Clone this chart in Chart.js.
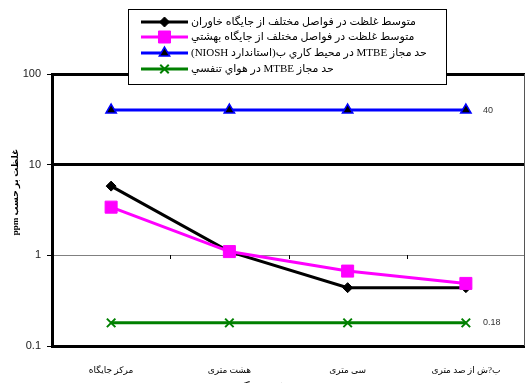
<!DOCTYPE html>
<html>
<head>
<meta charset="utf-8">
<script src="https://cdn.jsdelivr.net/npm/chart.js@4.4.1/dist/chart.umd.min.js"></script>
<style>
  html, body { margin: 0; padding: 0; background: #fff; overflow: hidden; }
  canvas { display: block; }
</style>
</head>
<body>
<canvas id="chart" width="526" height="396"></canvas>
<script>
// data (log scale, ppm)
const categories = ["مرکز جایگاه", "هشت متری", "سی متری", "ب?ش از صد متری"];
const khavaran = [5.8, 1.1, 0.44, 0.44];
const beheshti = [3.4, 1.1, 0.67, 0.49];
const nioshLimit = [40, 40, 40, 40];
const breathingLimit = [0.18, 0.18, 0.18, 0.18];
const yTicks = [0.1, 1, 10, 100];
const seriesNames = [
  "متوسط غلظت در فواصل مختلف از جایگاه خاوران",
  "متوسط غلظت در فواصل مختلف از جایگاه بهشتي",
  "حد مجاز MTBE در محیط کاري ب(استاندارد NIOSH)",
  "حد مجاز MTBE در هواي تنفسي",
];
const yTitle = "غلظت بر حسب ppm";
const xTitle = "فاصله از مرکز جایگاه";

const arabicFont = '"Liberation Serif", "DejaVu Sans", serif';

// legend box, value labels, y title, right border and the x ticks on the "1" line
const extras = {
  id: "extras",
  afterDraw(chart) {
    const ctx = chart.ctx;
    const area = chart.chartArea;
    const xs = chart.scales.x;
    const ys = chart.scales.y;
    ctx.save();

    // right border
    ctx.strokeStyle = "#555";
    ctx.lineWidth = 1;
    ctx.beginPath();
    ctx.moveTo(area.right - 0.5, area.top);
    ctx.lineTo(area.right - 0.5, area.bottom);
    ctx.stroke();

    // category ticks on the axis crossing at 1
    const y1 = Math.round(ys.getPixelForValue(1));
    ctx.strokeStyle = "#000";
    for (let i = 0; i < categories.length - 1; i++) {
      const xm = Math.round((xs.getPixelForValue(i) + xs.getPixelForValue(i + 1)) / 2) + 0.5;
      ctx.beginPath();
      ctx.moveTo(xm, y1);
      ctx.lineTo(xm, y1 + 4);
      ctx.stroke();
    }

    // value labels after the last point
    ctx.fillStyle = "#333";
    ctx.font = '9px "Liberation Sans", Arial, sans-serif';
    ctx.textAlign = "left";
    ctx.textBaseline = "middle";
    const last = categories.length - 1;
    const lx = xs.getPixelForValue(last) + 17;
    ctx.fillText(String(nioshLimit[last]), lx, ys.getPixelForValue(nioshLimit[last]));
    ctx.fillText(String(breathingLimit[last]), lx, ys.getPixelForValue(breathingLimit[last]));

    // y axis title, sits a bit above the middle like the original
    ctx.save();
    ctx.translate(16, 192);
    ctx.rotate(-Math.PI / 2);
    ctx.fillStyle = "#000";
    ctx.font = "bold 9px " + arabicFont;
    ctx.direction = "rtl";
    ctx.textAlign = "center";
    ctx.fillText(yTitle, 0, 0);
    ctx.restore();

    // legend
    const bx = 128.5, by = 9.5, bw = 318, bh = 75;
    ctx.fillStyle = "#fff";
    ctx.fillRect(bx, by, bw, bh);
    ctx.strokeStyle = "#000";
    ctx.lineWidth = 1;
    ctx.strokeRect(bx, by, bw, bh);

    const rows = [22, 37, 53, 69];
    chart.data.datasets.forEach((ds, i) => {
      const ry = rows[i];
      ctx.strokeStyle = ds.borderColor;
      ctx.lineWidth = 3;
      ctx.beginPath();
      ctx.moveTo(141, ry);
      ctx.lineTo(188, ry);
      ctx.stroke();
      if (Chart.helpers && Chart.helpers.drawPoint) {
        ctx.fillStyle = ds.pointBackgroundColor;
        ctx.strokeStyle = ds.pointBorderColor;
        ctx.lineWidth = ds.pointBorderWidth;
        Chart.helpers.drawPoint(ctx, {
          pointStyle: ds.pointStyle,
          radius: ds.pointRadius,
          borderWidth: ds.pointBorderWidth,
          rotation: 0,
        }, 164.5, ry);
      }
      ctx.fillStyle = "#000";
      ctx.font = "11px " + arabicFont;
      ctx.direction = "rtl";
      ctx.textAlign = "left";
      ctx.textBaseline = "middle";
      ctx.fillText(ds.label, 191, ry, 250);
    });
    ctx.restore();
  },
};

new Chart(document.getElementById("chart"), {
  type: "line",
  data: {
    labels: categories,
    datasets: [
      {
        label: seriesNames[0],
        data: khavaran,
        borderColor: "#000000",
        borderWidth: 3,
        pointStyle: "rectRot",
        pointRadius: 5,
        pointBackgroundColor: "#000000",
        pointBorderColor: "#000000",
        pointBorderWidth: 1,
        order: 1,
      },
      {
        label: seriesNames[1],
        data: beheshti,
        borderColor: "#ff00ff",
        borderWidth: 3,
        pointStyle: "rect",
        pointRadius: 8.5,
        pointBackgroundColor: "#ff00ff",
        pointBorderColor: "#ff00ff",
        pointBorderWidth: 1,
        order: 0,
      },
      {
        label: seriesNames[2],
        data: nioshLimit,
        borderColor: "#0000ff",
        borderWidth: 3,
        pointStyle: "triangle",
        pointRadius: 6,
        pointBackgroundColor: "#000000",
        pointBorderColor: "#0000ff",
        pointBorderWidth: 1.5,
        order: 0,
      },
      {
        label: seriesNames[3],
        data: breathingLimit,
        borderColor: "#008000",
        borderWidth: 3,
        pointStyle: "crossRot",
        pointRadius: 6,
        pointBackgroundColor: "#008000",
        pointBorderColor: "#008000",
        pointBorderWidth: 2,
        order: 0,
      },
    ],
  },
  options: {
    responsive: false,
    animation: false,
    layout: { autoPadding: false, padding: { top: 74, right: 1, left: 0, bottom: 0 } },
    plugins: {
      legend: { display: false },
      tooltip: { enabled: false },
    },
    scales: {
      x: {
        type: "category",
        offset: true,
        grid: { display: false, drawTicks: false },
        border: { display: false },
        ticks: {
          color: "#000",
          font: { family: arabicFont, size: 9 },
          padding: 19,
          maxRotation: 0,
          autoSkip: false,
        },
        title: {
          display: true,
          text: xTitle,
          color: "#000",
          font: { family: arabicFont, size: 11, weight: "bold" },
          padding: { top: 0, bottom: 1 },
        },
        afterFit(scale) {
          scale.height = 50;
          scale.paddingLeft = 0;
          scale.paddingRight = 0;
        },
      },
      y: {
        type: "logarithmic",
        min: 0.1,
        max: 100,
        afterBuildTicks(scale) {
          scale.ticks = yTicks.map((v) => ({ value: v }));
        },
        ticks: {
          callback: (v) => String(v),
          color: "#222",
          font: { family: '"Liberation Sans", Arial, sans-serif', size: 11 },
          padding: 6,
        },
        grid: {
          color: (c) => (c.tick && c.tick.value === 1 ? "#808080" : "#000000"),
          lineWidth: (c) => (c.tick && c.tick.value === 1 ? 1 : 3),
          tickLength: 5,
          tickColor: "#000",
          tickWidth: 1,
        },
        border: { color: "#000", width: 3 },
        afterFit(scale) {
          scale.width = 52;
        },
      },
    },
  },
  plugins: [extras],
});
</script>
</body>
</html>
